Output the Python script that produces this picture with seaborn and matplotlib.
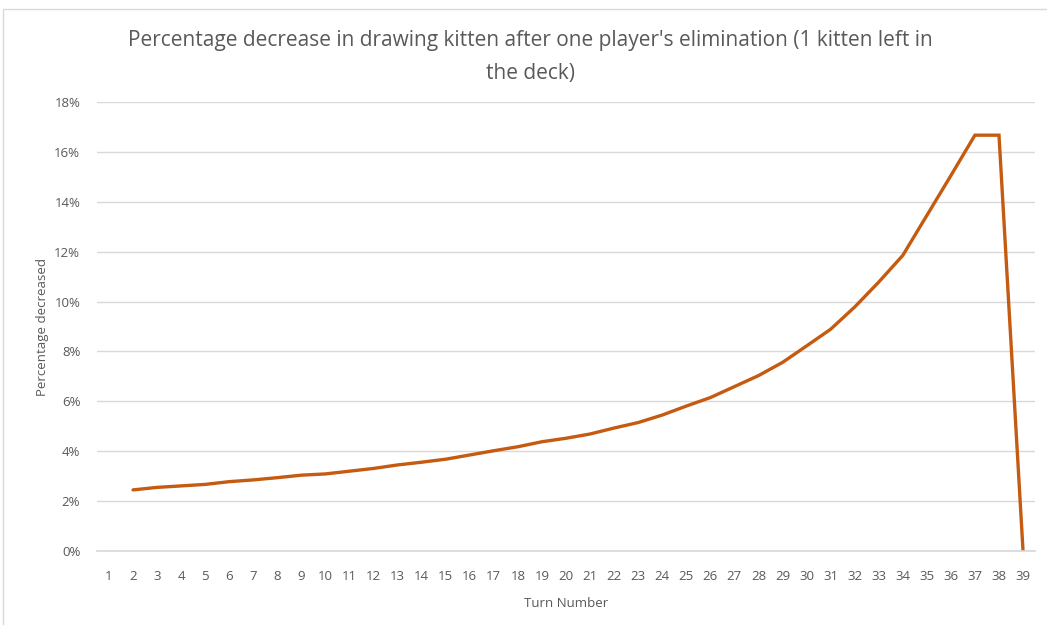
import matplotlib
matplotlib.use("Agg")
import matplotlib.pyplot as plt
from matplotlib.patches import Rectangle
from matplotlib.ticker import FuncFormatter
import numpy as np
import pandas as pd
import seaborn as sns

# Turn numbers shown on the category axis
turns = list(range(1, 40))
# Turns that have a value (turn 1 has none)
value_turns = list(range(2, 40))
# Percentage decrease in the chance of drawing the kitten (fraction)
pct_decrease = [
    0.0245, 0.0255, 0.0261, 0.0267, 0.0278, 0.0285, 0.0294, 0.0304, 0.0309,
    0.0320, 0.0331, 0.0345, 0.0356, 0.0368, 0.0385, 0.0402, 0.0418, 0.0438,
    0.0452, 0.0469, 0.0493, 0.0515, 0.0545, 0.0581, 0.0615, 0.0659, 0.0703,
    0.0756, 0.0822, 0.0889, 0.0978, 0.1078, 0.1185, 0.1345, 0.1505, 0.1667,
    0.1667, 0.0,
]
y_ticks = [0, 0.02, 0.04, 0.06, 0.08, 0.10, 0.12, 0.14, 0.16, 0.18]

title = "Percentage decrease in drawing kitten after one player's elimination (1 kitten left in\nthe deck)"
x_label = "Turn Number"
y_label = "Percentage decreased"

df = pd.DataFrame({"turn": value_turns, "pct": pct_decrease})

sns.set_theme(style="white")
plt.rcParams["font.family"] = ["Open Sans", "DejaVu Sans"]

text_grey = "#595959"
fig = plt.figure(figsize=(10.47, 6.25), dpi=100)
ax = fig.add_axes([0.0926, 0.1184, 0.896, 0.7184])

# Chart frame
fig.patches.append(Rectangle((0.003, -0.01), 1.2, 0.996, transform=fig.transFigure,
                             fill=False, edgecolor="#d9d9d9", linewidth=1.0))

sns.lineplot(data=df, x="turn", y="pct", ax=ax, color="#C55A11", linewidth=2.4,
             solid_joinstyle="miter")

ax.set_xlim(0.5, 39.5)
ax.set_ylim(0, 0.18)
ax.set_xticks(turns)
ax.set_xticklabels([str(t) for t in turns])
ax.set_yticks(y_ticks)
ax.yaxis.set_major_formatter(FuncFormatter(lambda v, _: f"{v * 100:.0f}%"))
ax.grid(axis="y", color="#d9d9d9", linewidth=1.0)
ax.set_axisbelow(True)
for side in ["top", "right", "left"]:
    ax.spines[side].set_visible(False)
ax.spines["bottom"].set_color("#d9d9d9")
ax.tick_params(axis="both", length=0, labelsize=9.5, colors=text_grey)
ax.tick_params(axis="x", pad=14)
ax.tick_params(axis="y", pad=12)

ax.set_xlabel(x_label, fontsize=9.5, color=text_grey, labelpad=10)
ax.set_ylabel(y_label, fontsize=9.5, color=text_grey, labelpad=4)
fig.text(0.507, 0.909, title, ha="center", va="center", fontsize=15,
         color=text_grey, linespacing=1.75)

fig.savefig("out.png", dpi=100, facecolor="white")
